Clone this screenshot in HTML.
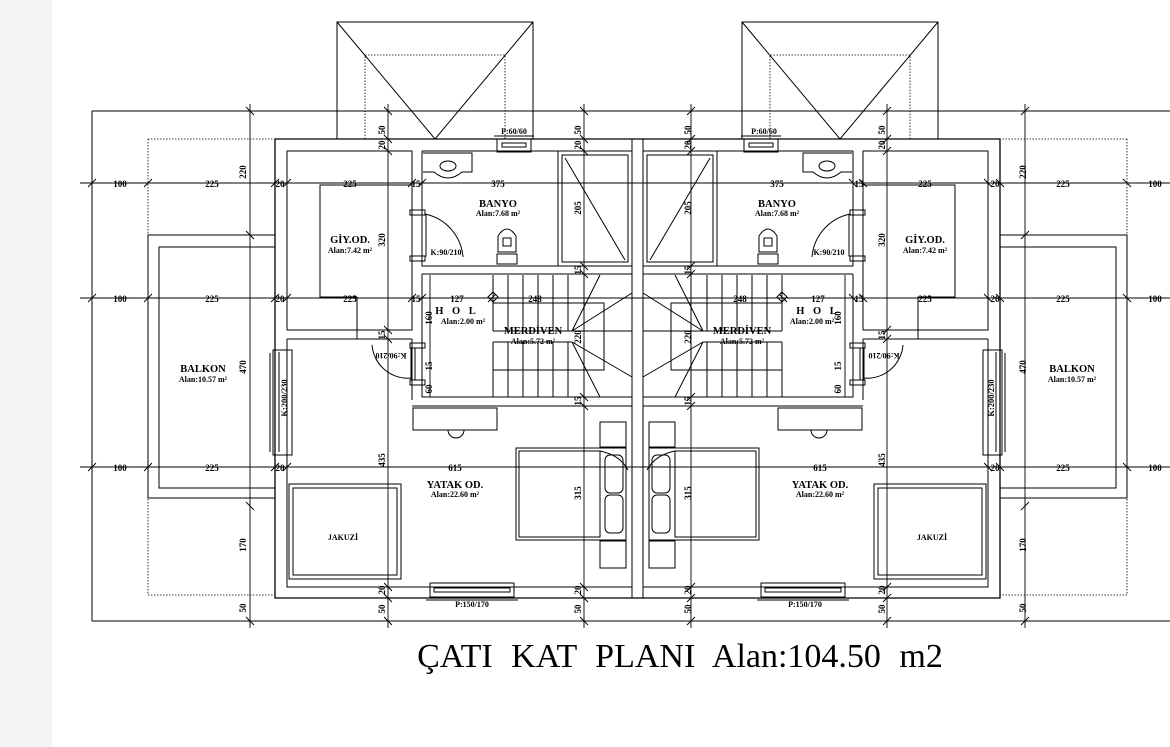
<!DOCTYPE html>
<html><head><meta charset="utf-8"><style>
html,body{margin:0;padding:0;background:#fff;}
body{width:1170px;height:747px;position:relative;overflow:hidden;}
.strip{position:absolute;left:0;top:0;width:52px;height:747px;background:#f3f4f6;}
svg{position:absolute;left:0;top:0;}
text{font-family:"Liberation Serif",serif;font-weight:bold;fill:#000;}
</style></head><body>
<div class="strip"></div>
<svg width="1170" height="747" viewBox="0 0 1170 747" xmlns="http://www.w3.org/2000/svg">
<defs>
<g id="L" fill="none" stroke="#000" stroke-width="1">
  <path d="M92 111 H637.5 M92 111 V621 H637.5"/>
  <path d="M148 139 H275 M148 139 V595 H275" stroke-dasharray="1.5 1.5" stroke-width="0.8"/>
  <rect x="337" y="22" width="196" height="117"/>
  <path d="M337 22 L435 139 L533 22"/>
  <path d="M365 139 V55 H505 V139" stroke-dasharray="1.5 1.5" stroke-width="0.8"/>
  <path d="M275 235 H148 V498 H275"/>
  <path d="M275 247 H159 V488 H275"/>
  <path d="M275 139 H637.5 M275 139 V598 H637.5" stroke-width="1.3"/>
  <path d="M287 151 H412 V330 H287 Z"/>
  <path d="M287 339 H412 M287 339 V587 H632 V406 M412 339 V400"/>
  <path d="M422 151 H632 V587 M422 151 V266 H558 M422 274 H632 M422 274 V397 H632 M412 406 H632"/>
  <path d="M643 139 V598"/>
  <path d="M412 185 H320 V297 H357 V339"/>
  <rect x="558" y="151" width="74" height="115"/>
  <rect x="562" y="155" width="66" height="107"/>
  <path d="M565 158 L625 260"/>
  <path d="M423 153 H472 V172 H462 Q448 184 434 172 H423"/>
  <ellipse cx="448" cy="166" rx="8" ry="5"/>
  <rect x="497" y="254" width="20" height="10"/>
  <path d="M498 252 V236 Q507 222 516 236 V252 Z"/>
  <rect x="503" y="238" width="8" height="8"/>
  <path d="M494 136 H534"/>
  <rect x="497" y="139" width="34" height="13"/>
  <rect x="502" y="143" width="24" height="4"/>
  <rect x="410" y="210" width="15" height="5"/><rect x="410" y="256" width="15" height="5"/>
  <rect x="422" y="215" width="4" height="41"/>
  <path d="M425 214 A48 48 0 0 1 463 257"/>
  <rect x="410" y="343" width="15" height="5"/><rect x="410" y="380" width="15" height="5"/>
  <rect x="411" y="348" width="4" height="32"/>
  <path d="M412 378 A36 36 0 0 1 372 345"/>
  <rect x="273" y="350" width="19" height="105"/>
  <path d="M279 352 V452 M287 352 V452 M270 353 V452"/>
  <path d="M493 275 V331 M508 275 V331 M523 275 V331 M538 275 V331 M553 275 V331 M568 275 V331 M584 275 V331"/>
  <path d="M493 342 V397 M508 342 V397 M523 342 V397 M538 342 V397 M553 342 V397 M568 342 V397 M584 342 V397"/>
  <path d="M493 303 H604 V370 H493 M493 331 H632 M493 342 H572"/>
  <path d="M572 331 L632 293 M572 331 L600 275 M572 342 L632 377 M572 342 L600 397"/>
  <path d="M488 297 l5 -5 l5 5 l-5 5 z"/>
  <rect x="413" y="408" width="84" height="22"/>
  <path d="M448 430 A8 8 0 0 0 464 430"/>
  <rect x="289" y="484" width="112" height="95"/>
  <rect x="293" y="488" width="104" height="87"/>
  <rect x="516" y="448" width="110" height="92"/>
  <rect x="519" y="451" width="81" height="86"/>
  <path d="M600 451 Q620 455 628 470 M600 451 V470"/>
  <rect x="605" y="455" width="18" height="38" rx="5"/>
  <rect x="605" y="495" width="18" height="38" rx="5"/>
  <rect x="600" y="422" width="26" height="25"/>
  <rect x="600" y="541" width="26" height="27"/>
  <path d="M426 600 H518"/>
  <rect x="430" y="583" width="84" height="14"/>
  <rect x="434" y="588" width="76" height="4"/>
  <g stroke-width="0.9">
    <path d="M80 183 H637.5 M80 298 H637.5 M80 467 H637.5"/>
    <path d="M250 104 V628 M388 104 V628 M584 104 V628"/>
    <path d="M88 187 l8 -8 M144 187 l8 -8 M271 187 l8 -8 M283 187 l8 -8 M408 187 l8 -8 M418 187 l8 -8"/>
    <path d="M88 302 l8 -8 M144 302 l8 -8 M271 302 l8 -8 M283 302 l8 -8 M408 302 l8 -8 M418 302 l8 -8 M488 302 l8 -8"/>
    <path d="M88 471 l8 -8 M144 471 l8 -8 M271 471 l8 -8 M283 471 l8 -8"/>
    <path d="M246 107 l8 8 M246 231 l8 8 M246 502 l8 8 M246 617 l8 8 M384 107 l8 8 M384 135 l8 8 M384 147 l8 8 M384 326 l8 8 M384 335 l8 8 M384 583 l8 8 M384 594 l8 8 M384 617 l8 8 M580 107 l8 8 M580 135 l8 8 M580 147 l8 8 M580 262 l8 8 M580 270 l8 8 M580 393 l8 8 M580 402 l8 8 M580 583 l8 8 M580 594 l8 8 M580 617 l8 8"/>
    <path d="M430 275 V397"/>
  </g>
</g>
</defs>
<use href="#L"/>
<use href="#L" transform="translate(1275,0) scale(-1,1)"/>

<g font-size="9" text-anchor="middle">
<text x="120" y="187">100</text><text x="212" y="187">225</text><text x="280" y="187">20</text><text x="350" y="187">225</text><text x="416" y="187">15</text><text x="498" y="187">375</text>
<text x="1155" y="187">100</text><text x="1063" y="187">225</text><text x="995" y="187">20</text><text x="925" y="187">225</text><text x="859" y="187">15</text><text x="777" y="187">375</text>
<text x="120" y="302">100</text><text x="212" y="302">225</text><text x="280" y="302">20</text><text x="350" y="302">225</text><text x="416" y="302">15</text><text x="457" y="302">127</text><text x="535" y="302">248</text>
<text x="1155" y="302">100</text><text x="1063" y="302">225</text><text x="995" y="302">20</text><text x="925" y="302">225</text><text x="859" y="302">15</text><text x="818" y="302">127</text><text x="740" y="302">248</text>
<text x="120" y="471">100</text><text x="212" y="471">225</text><text x="280" y="471">20</text><text x="455" y="471">615</text>
<text x="1155" y="471">100</text><text x="1063" y="471">225</text><text x="995" y="471">20</text><text x="820" y="471">615</text>
</g>
<g font-size="9" text-anchor="middle">
<g transform="translate(246,0)">
<text transform="translate(0,172) rotate(-90)">220</text><text transform="translate(0,367) rotate(-90)">470</text><text transform="translate(0,545) rotate(-90)">170</text><text transform="translate(0,608) rotate(-90)">50</text></g>
<g transform="translate(1026,0)">
<text transform="translate(0,172) rotate(-90)">220</text><text transform="translate(0,367) rotate(-90)">470</text><text transform="translate(0,545) rotate(-90)">170</text><text transform="translate(0,608) rotate(-90)">50</text></g>
<g transform="translate(385,0)">
<text transform="translate(0,130) rotate(-90)">50</text><text transform="translate(0,145) rotate(-90)">20</text><text transform="translate(0,240) rotate(-90)">320</text><text transform="translate(0,335) rotate(-90)">15</text><text transform="translate(0,460) rotate(-90)">435</text><text transform="translate(0,590) rotate(-90)">20</text><text transform="translate(0,609) rotate(-90)">50</text></g>
<g transform="translate(885,0)">
<text transform="translate(0,130) rotate(-90)">50</text><text transform="translate(0,145) rotate(-90)">20</text><text transform="translate(0,240) rotate(-90)">320</text><text transform="translate(0,335) rotate(-90)">15</text><text transform="translate(0,460) rotate(-90)">435</text><text transform="translate(0,590) rotate(-90)">20</text><text transform="translate(0,609) rotate(-90)">50</text></g>
<g transform="translate(581,0)">
<text transform="translate(0,130) rotate(-90)">50</text><text transform="translate(0,145) rotate(-90)">20</text><text transform="translate(0,208) rotate(-90)">205</text><text transform="translate(0,270) rotate(-90)">15</text><text transform="translate(0,337) rotate(-90)">220</text><text transform="translate(0,401) rotate(-90)">15</text><text transform="translate(0,493) rotate(-90)">315</text><text transform="translate(0,590) rotate(-90)">20</text><text transform="translate(0,609) rotate(-90)">50</text></g>
<g transform="translate(691,0)">
<text transform="translate(0,130) rotate(-90)">50</text><text transform="translate(0,145) rotate(-90)">20</text><text transform="translate(0,208) rotate(-90)">205</text><text transform="translate(0,270) rotate(-90)">15</text><text transform="translate(0,337) rotate(-90)">220</text><text transform="translate(0,401) rotate(-90)">15</text><text transform="translate(0,493) rotate(-90)">315</text><text transform="translate(0,590) rotate(-90)">20</text><text transform="translate(0,609) rotate(-90)">50</text></g>
<g transform="translate(432,0)"><text transform="translate(0,318) rotate(-90)">160</text><text transform="translate(0,366) rotate(-90)">15</text><text transform="translate(0,389) rotate(-90)">60</text></g>
<g transform="translate(841,0)"><text transform="translate(0,318) rotate(-90)">160</text><text transform="translate(0,366) rotate(-90)">15</text><text transform="translate(0,389) rotate(-90)">60</text></g>
<text transform="translate(287,398) rotate(-90)" font-size="8.5">K:200/230</text>
<text transform="translate(994,398) rotate(-90)" font-size="8.5">K:200/230</text>
</g>
<g text-anchor="middle">
<g font-size="10.5">
<text x="203" y="372">BALKON</text><text x="1072" y="372">BALKON</text>
<text x="350" y="243">GİY.OD.</text><text x="925" y="243">GİY.OD.</text>
<text x="498" y="207">BANYO</text><text x="777" y="207">BANYO</text>
<text x="457" y="314" letter-spacing="3">H O L</text><text x="818" y="314" letter-spacing="3">H O L</text>
<text x="533" y="334">MERDİVEN</text><text x="742" y="334">MERDİVEN</text>
<text x="455" y="488">YATAK OD.</text><text x="820" y="488">YATAK OD.</text>
</g>
<g font-size="8">
<text x="203" y="382">Alan:10.57 m²</text><text x="1072" y="382">Alan:10.57 m²</text>
<text x="350" y="253">Alan:7.42 m²</text><text x="925" y="253">Alan:7.42 m²</text>
<text x="498" y="216">Alan:7.68 m²</text><text x="777" y="216">Alan:7.68 m²</text>
<text x="463" y="324">Alan:2.00 m²</text><text x="812" y="324">Alan:2.00 m²</text>
<text x="533" y="344">Alan:5.72 m²</text><text x="742" y="344">Alan:5.72 m²</text>
<text x="455" y="497">Alan:22.60 m²</text><text x="820" y="497">Alan:22.60 m²</text>
<text x="343" y="540">JAKUZİ</text><text x="932" y="540">JAKUZİ</text>
<text x="514" y="134">P:60/60</text><text x="764" y="134">P:60/60</text>
<text x="472" y="607">P:150/170</text><text x="805" y="607">P:150/170</text>
<text x="446" y="255">K:90/210</text><text x="829" y="255">K:90/210</text>
<text transform="translate(391,353) scale(-1,-1)">K:90/210</text>
<text transform="translate(884,353) scale(-1,-1)">K:90/210</text>
</g>
</g>
<text x="680" y="667" text-anchor="middle" font-size="34" style="font-weight:normal" word-spacing="10">ÇATI KAT PLANI Alan:104.50 m2</text>
</svg>
</body></html>
